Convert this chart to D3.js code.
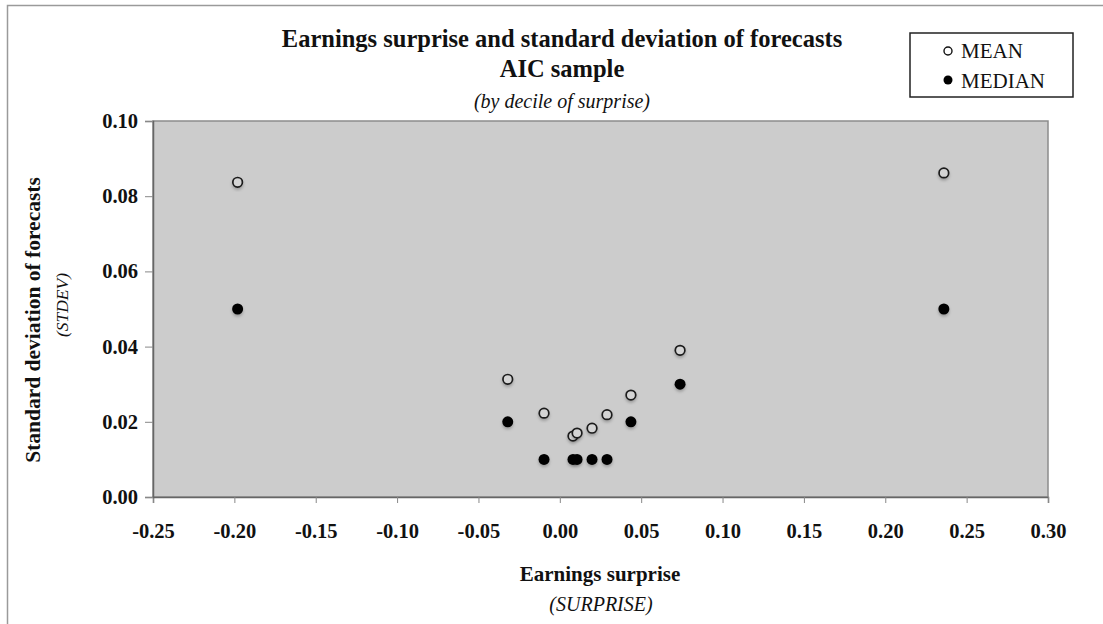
<!DOCTYPE html>
<html>
<head>
<meta charset="utf-8">
<script src="https://cdn.jsdelivr.net/npm/d3@7"></script>
<style>
  body { margin: 0; background: #fff; }
  text { font-family: "Liberation Serif", "Times New Roman", serif; fill: #111; }
</style>
</head>
<body>
<svg id="chart"></svg>
<script>
// surprise decile values (x) and the std dev of forecasts (y)
const surprise = [-0.198, -0.032, -0.0097, 0.0081, 0.0106, 0.0198, 0.029, 0.0437, 0.0739, 0.236];
const meanStdev = [0.0837, 0.0313, 0.0223, 0.0162, 0.0170, 0.0183, 0.0219, 0.0271, 0.0390, 0.0862];
const medianStdev = [0.05, 0.02, 0.01, 0.01, 0.01, 0.01, 0.01, 0.02, 0.03, 0.05];
const xTicks = [-0.25, -0.20, -0.15, -0.10, -0.05, 0.00, 0.05, 0.10, 0.15, 0.20, 0.25, 0.30];
const yTicks = [0.00, 0.02, 0.04, 0.06, 0.08, 0.10];

const W = 1103, H = 624;
const pLeft = 153, pRight = 1048, pTop = 121, pBottom = 497;

const svg = d3.select("#chart").attr("width", W).attr("height", H);

// outer frame
svg.append("rect")
    .attr("x", 7.5).attr("y", 5.5)
    .attr("width", W + 10).attr("height", H + 10)
    .attr("fill", "none").attr("stroke", "#9a9a9a").attr("stroke-width", 1.5);

const x = d3.scaleLinear().domain([-0.25, 0.30]).range([pLeft, pRight]);
const y = d3.scaleLinear().domain([0, 0.10]).range([pBottom, pTop]);

// plot area
svg.append("rect")
    .attr("x", pLeft).attr("y", pTop)
    .attr("width", pRight - pLeft).attr("height", pBottom - pTop)
    .attr("fill", "#cccccc").attr("stroke", "#8c8c8c").attr("stroke-width", 1.5);

// plain hyphen for negatives, like the original
const fmt = d => d3.format(".2f")(d).replace("\u2212", "-");

const xAxis = d3.axisBottom(x).tickValues(xTicks).tickSize(6).tickFormat(fmt);
const yAxis = d3.axisLeft(y).tickValues(yTicks).tickSize(8).tickFormat(fmt);

const gx = svg.append("g").attr("transform", `translate(0,${pBottom})`).call(xAxis);
gx.select(".domain").attr("stroke", "#666").attr("stroke-width", 1.5);
gx.selectAll(".tick line").attr("stroke", "#888");
gx.selectAll("text")
    .attr("dy", "0")
    .attr("y", 41)
    .style("font-size", "20.5px").style("font-weight", "bold")
    .style("font-family", "Liberation Serif, serif").attr("fill", "#111");

const gy = svg.append("g").attr("transform", `translate(${pLeft},0)`).call(yAxis);
gy.select(".domain").attr("stroke", "#666").attr("stroke-width", 1.5);
gy.selectAll(".tick line").attr("stroke", "#888");
gy.selectAll("text")
    .attr("x", -15)
    .style("font-size", "20.5px").style("font-weight", "bold")
    .style("font-family", "Liberation Serif, serif").attr("fill", "#111");

// soft drop shadow for markers
const defs = svg.append("defs");
const f = defs.append("filter").attr("id", "shadow").attr("x", "-50%").attr("y", "-50%").attr("width", "200%").attr("height", "200%");
f.append("feDropShadow").attr("dx", 0).attr("dy", 2).attr("stdDeviation", 1.5)
    .attr("flood-color", "#000").attr("flood-opacity", 0.25);

const meanData = surprise.map((s, i) => ({x: s, y: meanStdev[i]}));
const medianData = surprise.map((s, i) => ({x: s, y: medianStdev[i]}));

svg.append("g").selectAll("circle")
    .data(medianData).enter().append("circle")
    .attr("cx", d => x(d.x)).attr("cy", d => y(d.y))
    .attr("r", 5.5).attr("fill", "#000")
    .attr("filter", "url(#shadow)");

svg.append("g").selectAll("circle")
    .data(meanData).enter().append("circle")
    .attr("cx", d => x(d.x)).attr("cy", d => y(d.y))
    .attr("r", 4.8).attr("fill", "#d4d4d4").attr("stroke", "#1a1a1a").attr("stroke-width", 1.7)
    .attr("filter", "url(#shadow)");

// titles
const cx = 562;
svg.append("text").attr("x", cx).attr("y", 47).attr("text-anchor", "middle")
    .style("font-size", "24.5px").style("font-weight", "bold")
    .text("Earnings surprise and standard deviation of forecasts");
svg.append("text").attr("x", cx).attr("y", 77).attr("text-anchor", "middle")
    .style("font-size", "24.5px").style("font-weight", "bold")
    .text("AIC sample");
svg.append("text").attr("x", cx).attr("y", 108).attr("text-anchor", "middle")
    .style("font-size", "20px").style("font-style", "italic")
    .text("(by decile of surprise)");

// x axis title
svg.append("text").attr("x", 600).attr("y", 581).attr("text-anchor", "middle")
    .style("font-size", "21px").style("font-weight", "bold")
    .text("Earnings surprise");
svg.append("text").attr("x", 601).attr("y", 611).attr("text-anchor", "middle")
    .style("font-size", "20px").style("font-style", "italic")
    .text("(SURPRISE)");

// y axis title
svg.append("text").attr("transform", "translate(40,320) rotate(-90)").attr("text-anchor", "middle")
    .style("font-size", "21.5px").style("font-weight", "bold")
    .text("Standard deviation of forecasts");
svg.append("text").attr("transform", "translate(68,305) rotate(-90)").attr("text-anchor", "middle")
    .style("font-size", "17.5px").style("font-style", "italic")
    .text("(STDEV)");

// legend
const lg = svg.append("g");
lg.append("rect").attr("x", 910).attr("y", 33).attr("width", 163).attr("height", 64)
    .attr("fill", "#fff").attr("stroke", "#222").attr("stroke-width", 1.5);
lg.append("circle").attr("cx", 948).attr("cy", 51).attr("r", 4)
    .attr("fill", "#fff").attr("stroke", "#111").attr("stroke-width", 1.4);
lg.append("circle").attr("cx", 948).attr("cy", 80).attr("r", 4.5).attr("fill", "#000");
lg.append("text").attr("x", 961).attr("y", 58).style("font-size", "21px").text("MEAN");
lg.append("text").attr("x", 961).attr("y", 88).style("font-size", "21px").text("MEDIAN");
</script>
</body>
</html>
